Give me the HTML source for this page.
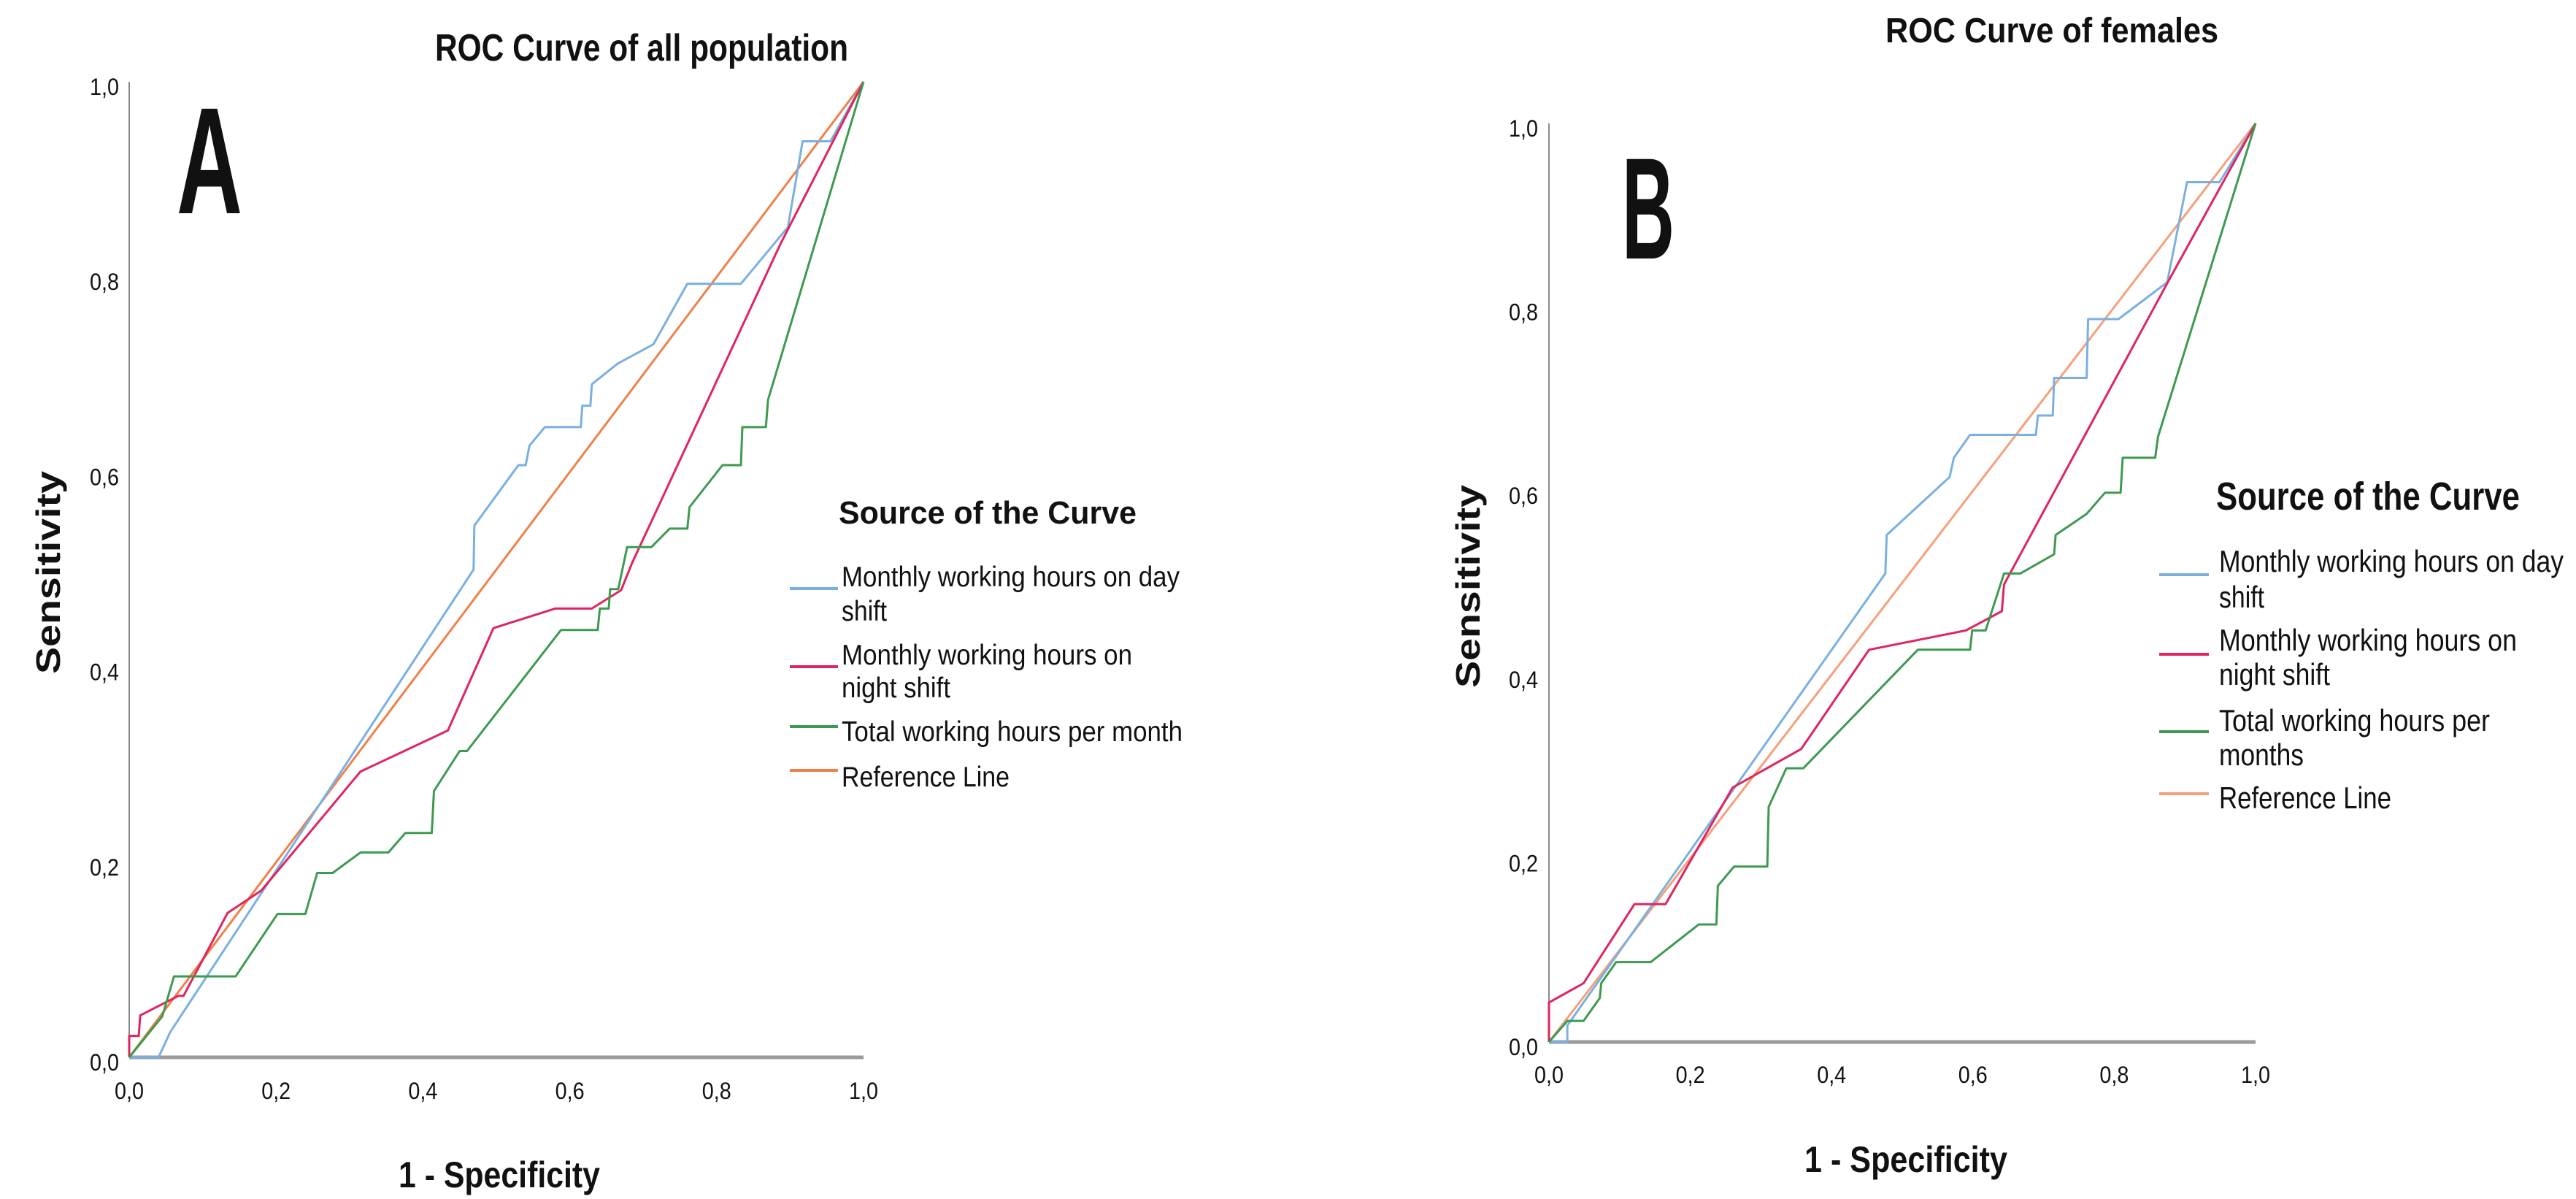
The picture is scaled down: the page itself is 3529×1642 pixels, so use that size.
<!DOCTYPE html>
<html><head><meta charset="utf-8"><title>ROC Curves</title>
<style>
html,body{margin:0;padding:0;background:#fff;}
svg{display:block;}
text{font-family:"Liberation Sans",Arial,sans-serif;fill:#111;}
</style></head>
<body>
<svg id="root" width="3529" height="1642" viewBox="0 0 3529 1642" xmlns="http://www.w3.org/2000/svg"></svg>
<script>
// ---------- DATA ----------
const tickValues = [0, 0.2, 0.4, 0.6, 0.8, 1.0];
const tickLabels = ["0,0", "0,2", "0,4", "0,6", "0,8", "1,0"];

// Panel A (all population): [1-specificity, sensitivity]
const aDayX   = [0,0.04,0.056,0.469,0.47,0.53,0.54,0.545,0.566,0.615,0.617,0.628,0.63,0.665,0.714,0.76,0.833,0.897,0.917,0.955,1];
const aDayY   = [0,0,0.026,0.50,0.545,0.607,0.607,0.627,0.646,0.646,0.668,0.668,0.69,0.711,0.731,0.793,0.793,0.851,0.939,0.939,1];
const aNightX = [0,0,0.013,0.015,0.067,0.074,0.134,0.18,0.315,0.434,0.496,0.58,0.63,0.67,0.685,0.887,1];
const aNightY = [0,0.022,0.022,0.043,0.063,0.063,0.148,0.171,0.293,0.335,0.44,0.46,0.46,0.479,0.507,0.834,1];
const aTotalX = [0,0.045,0.061,0.145,0.202,0.24,0.256,0.277,0.315,0.353,0.376,0.412,0.415,0.45,0.46,0.588,0.638,0.641,0.653,0.655,0.666,0.678,0.711,0.736,0.76,0.763,0.808,0.833,0.835,0.867,0.87,1];
const aTotalY = [0,0.042,0.083,0.083,0.147,0.147,0.189,0.189,0.21,0.21,0.23,0.23,0.273,0.314,0.314,0.438,0.438,0.46,0.46,0.48,0.48,0.523,0.523,0.542,0.542,0.564,0.607,0.607,0.646,0.646,0.674,1];

// Panel B (females)
const bDayX   = [0,0.026,0.026,0.476,0.478,0.567,0.573,0.596,0.689,0.692,0.713,0.715,0.761,0.763,0.806,0.875,0.903,0.949,1];
const bDayY   = [0,0,0.018,0.51,0.552,0.615,0.636,0.661,0.661,0.682,0.682,0.723,0.723,0.787,0.787,0.827,0.936,0.936,1];
const bNightX = [0,0,0.049,0.121,0.165,0.26,0.357,0.453,0.59,0.641,0.644,0.88,1];
const bNightY = [0,0.043,0.064,0.15,0.15,0.277,0.319,0.427,0.448,0.469,0.498,0.833,1];
const bTotalX = [0,0.026,0.049,0.072,0.074,0.095,0.144,0.212,0.237,0.239,0.262,0.309,0.311,0.336,0.36,0.522,0.596,0.599,0.618,0.644,0.667,0.715,0.717,0.761,0.787,0.809,0.812,0.858,0.862,1];
const bTotalY = [0,0.023,0.023,0.048,0.064,0.087,0.087,0.128,0.128,0.17,0.191,0.191,0.256,0.298,0.298,0.427,0.427,0.448,0.448,0.51,0.51,0.531,0.552,0.575,0.598,0.598,0.636,0.636,0.659,1];

const refX = [0, 1];
const refY = [0, 1];

// ---------- DRAW ----------
const NS = "http://www.w3.org/2000/svg";
const root = document.getElementById("root");
function mk(tag, attrs, parent, txt){
  const e = document.createElementNS(NS, tag);
  for (const k in attrs) e.setAttribute(k, attrs[k]);
  if (txt !== undefined) e.textContent = txt;
  (parent || root).appendChild(e);
  return e;
}
const C_DAY = "#7ab0e0", C_NIGHT = "#e0245e", C_TOTAL = "#3d9a50";

function panel(cfg){
  const g = mk("g", {});
  
  
  const sx = v => cfg.x0 + v * (cfg.x1 - cfg.x0);
  const sy = v => cfg.y0 - v * (cfg.y0 - cfg.y1);

  // title
  const t = mk("text", {x: cfg.titleX, y: cfg.titleY, "font-size": cfg.titleFS, "font-weight": "bold", textLength: cfg.titleW, lengthAdjust: "spacingAndGlyphs"}, g, cfg.title);
  
  

  // panel letter
  const L = mk("text", {x: cfg.letterX, y: cfg.letterY, "font-size": cfg.letterFS, "font-weight": "bold", textLength: cfg.letterW, lengthAdjust: "spacingAndGlyphs"}, g, cfg.letter);
  
  

  // axes
  const ya = mk("line", {x1: cfg.x0, y1: cfg.y1, x2: cfg.x0, y2: cfg.y0, stroke: "#8a8a8a", "stroke-width": 2}, g);
  
  
  const xa = mk("line", {x1: cfg.x0, y1: cfg.y0, x2: cfg.x1, y2: cfg.y0, stroke: "#9a9a9a", "stroke-width": 5}, g);
  
  

  // ticks
  tickValues.forEach((v, i) => {
    const tx = mk("text", {x: sx(v), y: cfg.xTickY, "font-size": 32, "text-anchor": "middle", fill: "#222", textLength: 40, lengthAdjust: "spacingAndGlyphs"}, g, tickLabels[i]);
    
    
    const ty = mk("text", {x: cfg.yTickR, y: sy(v) + 18, "font-size": 32, "text-anchor": "end", fill: "#222", textLength: 40, lengthAdjust: "spacingAndGlyphs"}, g, tickLabels[i]);
    
    
  });

  // axis titles
  const xt = mk("text", {x: cfg.xTitleX, y: cfg.xTitleY, "font-size": 50, "font-weight": "bold", textLength: cfg.xTitleW, lengthAdjust: "spacingAndGlyphs"}, g, "1 - Specificity");
  
  
  const yt = mk("text", {x: 0, y: 0, "font-size": 46, "font-weight": "bold", "text-anchor": "middle", textLength: 278, lengthAdjust: "spacingAndGlyphs", transform: `translate(${cfg.yTitleX},${cfg.yTitleY}) rotate(-90)`}, g, "Sensitivity");
  
  

  // series
  function series(xs, ys, color, name){
    const pts = xs.map((x, i) => sx(x).toFixed(1) + "," + sy(ys[i]).toFixed(1)).join(" ");
    const p = mk("polyline", {points: pts, fill: "none", stroke: color, "stroke-width": 3, "stroke-linejoin": "round"}, g);
    
    
  }
  series(refX, refY, cfg.refColor, 'reference-line');
  series(cfg.dayX, cfg.dayY, C_DAY, 'day-shift-curve');
  series(cfg.nightX, cfg.nightY, C_NIGHT, 'night-shift-curve');
  series(cfg.totalX, cfg.totalY, C_TOTAL, 'total-hours-curve');

  // legend
  const lg = mk("g", {}, g);
  
  
  const lt = mk("text", {x: cfg.legTX, y: cfg.legTY, "font-size": cfg.legTFS, "font-weight": "bold", textLength: cfg.legTW, lengthAdjust: "spacingAndGlyphs"}, lg, "Source of the Curve");
  
  
  cfg.entries.forEach(en => {
    const eg = mk("g", {}, lg);
    
    
    mk("line", {x1: cfg.swX0, x2: cfg.swX1, y1: en.sy, y2: en.sy, stroke: en.color, "stroke-width": 4}, eg);
    en.lines.forEach(ln => {
      mk("text", {x: cfg.legTX + 4, y: ln[1], "font-size": cfg.entFS, fill: "#222", textLength: ln[2], lengthAdjust: "spacingAndGlyphs"}, eg, ln[0]);
    });
  });
}

panel({
  name: 'panel-a-all-population', x0: 177, x1: 1183, y0: 1448, y1: 112,
  title: "ROC Curve of all population", titleX: 596, titleY: 83, titleFS: 52, titleW: 566,
  letter: "A", letterX: 242, letterY: 292, letterFS: 208, letterW: 90,
  xTickY: 1505, yTickR: 163,
  xTitleX: 546, xTitleY: 1626, xTitleW: 276, yTitleX: 82, yTitleY: 784,
  refColor: "#f0804a",
  dayX: aDayX, dayY: aDayY, nightX: aNightX, nightY: aNightY, totalX: aTotalX, totalY: aTotalY,
  legTX: 1149, legTY: 717, legTFS: 44, legTW: 408, entFS: 39, swX0: 1082, swX1: 1148,
  entries: [
    {color: C_DAY, sy: 806, lines: [["Monthly working hours on day", 803, 463], ["shift", 850, 62]]},
    {color: C_NIGHT, sy: 913, lines: [["Monthly working hours on", 910, 398], ["night shift", 955, 149]]},
    {color: C_TOTAL, sy: 995, lines: [["Total working hours per month", 1015, 467]]},
    {color: "#f0804a", sy: 1055, lines: [["Reference Line", 1077, 230]]}
  ]
});

panel({
  name: 'panel-b-females', x0: 2122, x1: 3090, y0: 1427, y1: 169,
  title: "ROC Curve of females", titleX: 2583, titleY: 58, titleFS: 48, titleW: 456,
  letter: "B", letterX: 2222, letterY: 354, letterFS: 198, letterW: 72,
  xTickY: 1483, yTickR: 2107,
  xTitleX: 2472, xTitleY: 1605, xTitleW: 278, yTitleX: 2027, yTitleY: 803,
  refColor: "#f5a07a",
  dayX: bDayX, dayY: bDayY, nightX: bNightX, nightY: bNightY, totalX: bTotalX, totalY: bTotalY,
  legTX: 3036, legTY: 698, legTFS: 54, legTW: 416, entFS: 42, swX0: 2958, swX1: 3026,
  entries: [
    {color: C_DAY, sy: 787, lines: [["Monthly working hours on day", 783, 472], ["shift", 832, 62]]},
    {color: C_NIGHT, sy: 896, lines: [["Monthly working hours on", 891, 408], ["night shift", 938, 152]]},
    {color: C_TOTAL, sy: 1002, lines: [["Total working hours per", 1001, 371], ["months", 1048, 116]]},
    {color: "#f5a07a", sy: 1087, lines: [["Reference Line", 1107, 236]]}
  ]
});
</script>
</body></html>
